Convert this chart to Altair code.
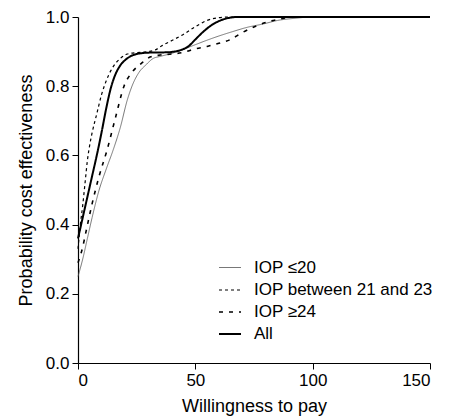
import altair as alt
import pandas as pd

series_names = ["IOP \u226420", "IOP between 21 and 23", "IOP \u226524", "All"]

x_le20 = [0, 2, 4, 6, 9, 12, 15, 18, 21, 23, 26, 29, 32, 35, 40, 45, 50, 55, 60, 66, 72, 79, 85, 92, 100, 150]
y_le20 = [0.25, 0.30, 0.36, 0.42, 0.50, 0.56, 0.616, 0.68, 0.76, 0.80, 0.84, 0.862, 0.88, 0.886, 0.895, 0.907, 0.92, 0.933, 0.945, 0.958, 0.97, 0.98, 0.99, 0.996, 1.0, 1.0]

x_21_23 = [0, 1, 2, 3, 4, 5, 6, 8, 10, 12, 14, 16, 18, 21, 25, 30, 33, 36, 40, 45, 50, 55, 60, 65, 150]
y_21_23 = [0.33, 0.40, 0.455, 0.52, 0.585, 0.63, 0.665, 0.72, 0.775, 0.815, 0.845, 0.866, 0.88, 0.893, 0.897, 0.90, 0.905, 0.918, 0.932, 0.95, 0.972, 0.99, 0.998, 1.0, 1.0]

x_ge24 = [0, 2, 3.3, 6, 9, 12.4, 16, 19.6, 23, 27, 31, 35, 40, 45, 50, 55, 60, 65, 70, 77, 82, 86, 92, 150]
y_ge24 = [0.29, 0.335, 0.376, 0.46, 0.54, 0.616, 0.71, 0.80, 0.84, 0.866, 0.885, 0.89, 0.893, 0.898, 0.908, 0.915, 0.924, 0.935, 0.955, 0.977, 0.988, 0.994, 1.0, 1.0]

x_all = [0, 2, 4, 6, 8, 10, 12, 14, 16, 18, 20, 22, 25, 30, 38, 44, 47, 50, 53, 56, 60, 64, 68, 150]
y_all = [0.36, 0.42, 0.48, 0.54, 0.60, 0.665, 0.735, 0.795, 0.835, 0.86, 0.875, 0.885, 0.893, 0.897, 0.898, 0.905, 0.915, 0.935, 0.955, 0.972, 0.988, 0.997, 1.0, 1.0]

rows = []
for name, xs, ys in zip(series_names,
                        [x_le20, x_21_23, x_ge24, x_all],
                        [y_le20, y_21_23, y_ge24, y_all]):
    for xv, yv in zip(xs, ys):
        rows.append({"series": name, "wtp": xv, "prob": yv})
df = pd.DataFrame(rows)

FONT = "Liberation Sans"
leg = alt.Legend(
    title=None, orient="none", legendX=140, legendY=239,
    symbolType="stroke", symbolSize=484, labelFontSize=17, labelFont=FONT,
    labelColor="black", labelOffset=12, rowPadding=2, padding=0,
    symbolStrokeColor="black", labelLimit=400,
)

chart = alt.Chart(df).mark_line(interpolate="monotone").encode(
    x=alt.X("wtp:Q", scale=alt.Scale(domain=[0, 150], nice=False),
            axis=alt.Axis(values=[0, 50, 100, 150], title="Willingness to pay",
                          grid=False, tickSize=6, labelPadding=3,
                          labelFontSize=17, titleFontSize=18, titlePadding=9,
                          titleFontWeight="normal")),
    y=alt.Y("prob:Q", scale=alt.Scale(domain=[0, 1], nice=False),
            axis=alt.Axis(values=[0, 0.2, 0.4, 0.6, 0.8, 1.0], format=".1f",
                          title="Probability cost effectiveness", grid=False,
                          tickSize=6, labelPadding=3, labelFontSize=17,
                          titleFontSize=18, titlePadding=10,
                          titleFontWeight="normal")),
    strokeDash=alt.StrokeDash("series:N",
                              scale=alt.Scale(domain=series_names,
                                              range=[[1, 0], [3, 3], [4, 6], [1, 0]]),
                              legend=leg),
    strokeWidth=alt.StrokeWidth("series:N",
                                scale=alt.Scale(domain=series_names,
                                                range=[0.8, 2, 2, 2]),
                                legend=leg),
    color=alt.Color("series:N",
                    scale=alt.Scale(domain=series_names,
                                    range=["#555555", "black", "black", "black"]),
                    legend=leg),
    order=alt.Order("wtp:Q"),
).properties(
    width=352, height=346,
    autosize=alt.AutoSizeParams(type="none"),
    padding={"left": 70, "top": 9, "right": 11, "bottom": 55},
).configure_view(stroke=None).configure_axis(
    domainColor="black", tickColor="black", labelColor="black",
    titleColor="black", labelFont=FONT, titleFont=FONT, domainWidth=1.2,
)

chart.save("out.html", embed_options={"renderer": "svg", "actions": False})
